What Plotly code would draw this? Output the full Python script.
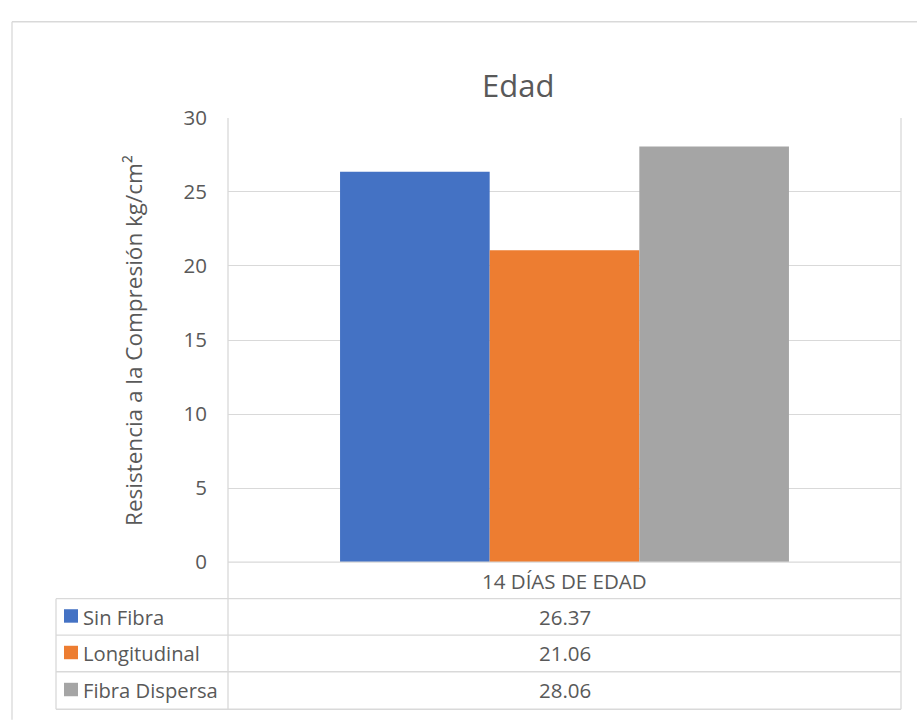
import plotly.graph_objects as go

# Data
category = "14 DÍAS DE EDAD"
series_names = ["Sin Fibra", "Longitudinal", "Fibra Dispersa"]
series_values = [26.37, 21.06, 28.06]
series_colors = ["#4472C4", "#ED7D31", "#A5A5A5"]
y_ticks = [0, 5, 10, 15, 20, 25, 30]

W, H = 917, 728
FONT = "Open Sans"
TXT = "#595959"
LINE = "#D9D9D9"


def xp(px):
    return px / W


def yp(py):
    return 1 - py / H


# Pixel layout of plot area and data table
PL, PR, PT, PB = 228, 901, 107, 569
TL = 56
rows = [569, 607, 645, 683, 722]

fig = go.Figure()
for name, val, col in zip(series_names, series_values, series_colors):
    fig.add_trace(go.Bar(x=[category], y=[val], name=name,
                         marker=dict(color=col, line=dict(width=0)),
                         hoverinfo="y+name"))

shapes = []


def hline(y, x0, x1):
    shapes.append(dict(type="line", xref="paper", yref="paper",
                       x0=xp(x0), x1=xp(x1), y0=yp(y), y1=yp(y),
                       line=dict(color=LINE, width=1.3)))


def vline(x, y0, y1):
    shapes.append(dict(type="line", xref="paper", yref="paper",
                       x0=xp(x), x1=xp(x), y0=yp(y0), y1=yp(y1),
                       line=dict(color=LINE, width=1.3)))


# Outer chart border (left and top)
hline(7, 12, W + 5)
vline(12, 7, H + 5)

# Plot area / data table frame
hline(rows[0], PL, PR)
for r in rows[1:]:
    hline(r, TL, PR)
vline(TL, rows[1], rows[-1])
vline(PL, PT, rows[-1])
vline(PR, PT, rows[-1])

annotations = []
# Title
annotations.append(dict(text="Edad", x=xp(518), y=yp(73), xref="paper", yref="paper",
                        showarrow=False, xanchor="center", yanchor="middle",
                        font=dict(family=FONT, size=31, color=TXT)))
# Y axis title
annotations.append(dict(text="Resistencia a la Compresión kg/cm²", x=xp(134), y=yp(339),
                        xref="paper", yref="paper", showarrow=False, textangle=-90,
                        xanchor="center", yanchor="middle",
                        font=dict(family=FONT, size=22.5, color=TXT)))
# Category row
cx = (PL + PR) / 2
annotations.append(dict(text=category, x=xp(cx), y=yp((rows[0] + rows[1]) / 2 + 1),
                        xref="paper", yref="paper", showarrow=False,
                        xanchor="center", yanchor="middle",
                        font=dict(family=FONT, size=20.5, color=TXT)))
# Series rows: legend key, name, value
for i, (name, val, col) in enumerate(zip(series_names, series_values, series_colors)):
    top, bot = rows[i + 1], rows[i + 2]
    mid = (top + bot) / 2
    shapes.append(dict(type="rect", xref="paper", yref="paper",
                       x0=xp(64), x1=xp(78), y0=yp(mid - 8), y1=yp(mid + 6),
                       fillcolor=col, line=dict(width=0)))
    annotations.append(dict(text=name, x=xp(81), y=yp(mid), xref="paper", yref="paper",
                            showarrow=False, xanchor="left", yanchor="middle",
                            font=dict(family=FONT, size=20.2, color=TXT)))
    annotations.append(dict(text=f"{val:.2f}", x=xp(cx), y=yp(mid), xref="paper",
                            yref="paper", showarrow=False, xanchor="center",
                            yanchor="middle",
                            font=dict(family=FONT, size=20.5, color=TXT)))

fig.update_layout(
    width=W, height=H,
    margin=dict(l=0, r=0, t=0, b=0),
    paper_bgcolor="white", plot_bgcolor="white",
    barmode="group", bargap=0.333, bargroupgap=0,
    showlegend=False,
    shapes=shapes, annotations=annotations,
    xaxis=dict(domain=[xp(PL), xp(PR)], showticklabels=False, showgrid=False,
               zeroline=False, showline=False, ticks=""),
    yaxis=dict(domain=[yp(PB), yp(PT)], range=[0, 30], tickvals=y_ticks,
               showgrid=True, gridcolor=LINE, gridwidth=1.3, zeroline=False,
               showline=False, ticks="", ticklabelstandoff=20,
               tickfont=dict(family=FONT, size=20.5, color=TXT)),
)

fig.write_html("out.html",
               post_script="document.body.style.margin='0';"
                           "document.body.style.overflow='hidden';")
